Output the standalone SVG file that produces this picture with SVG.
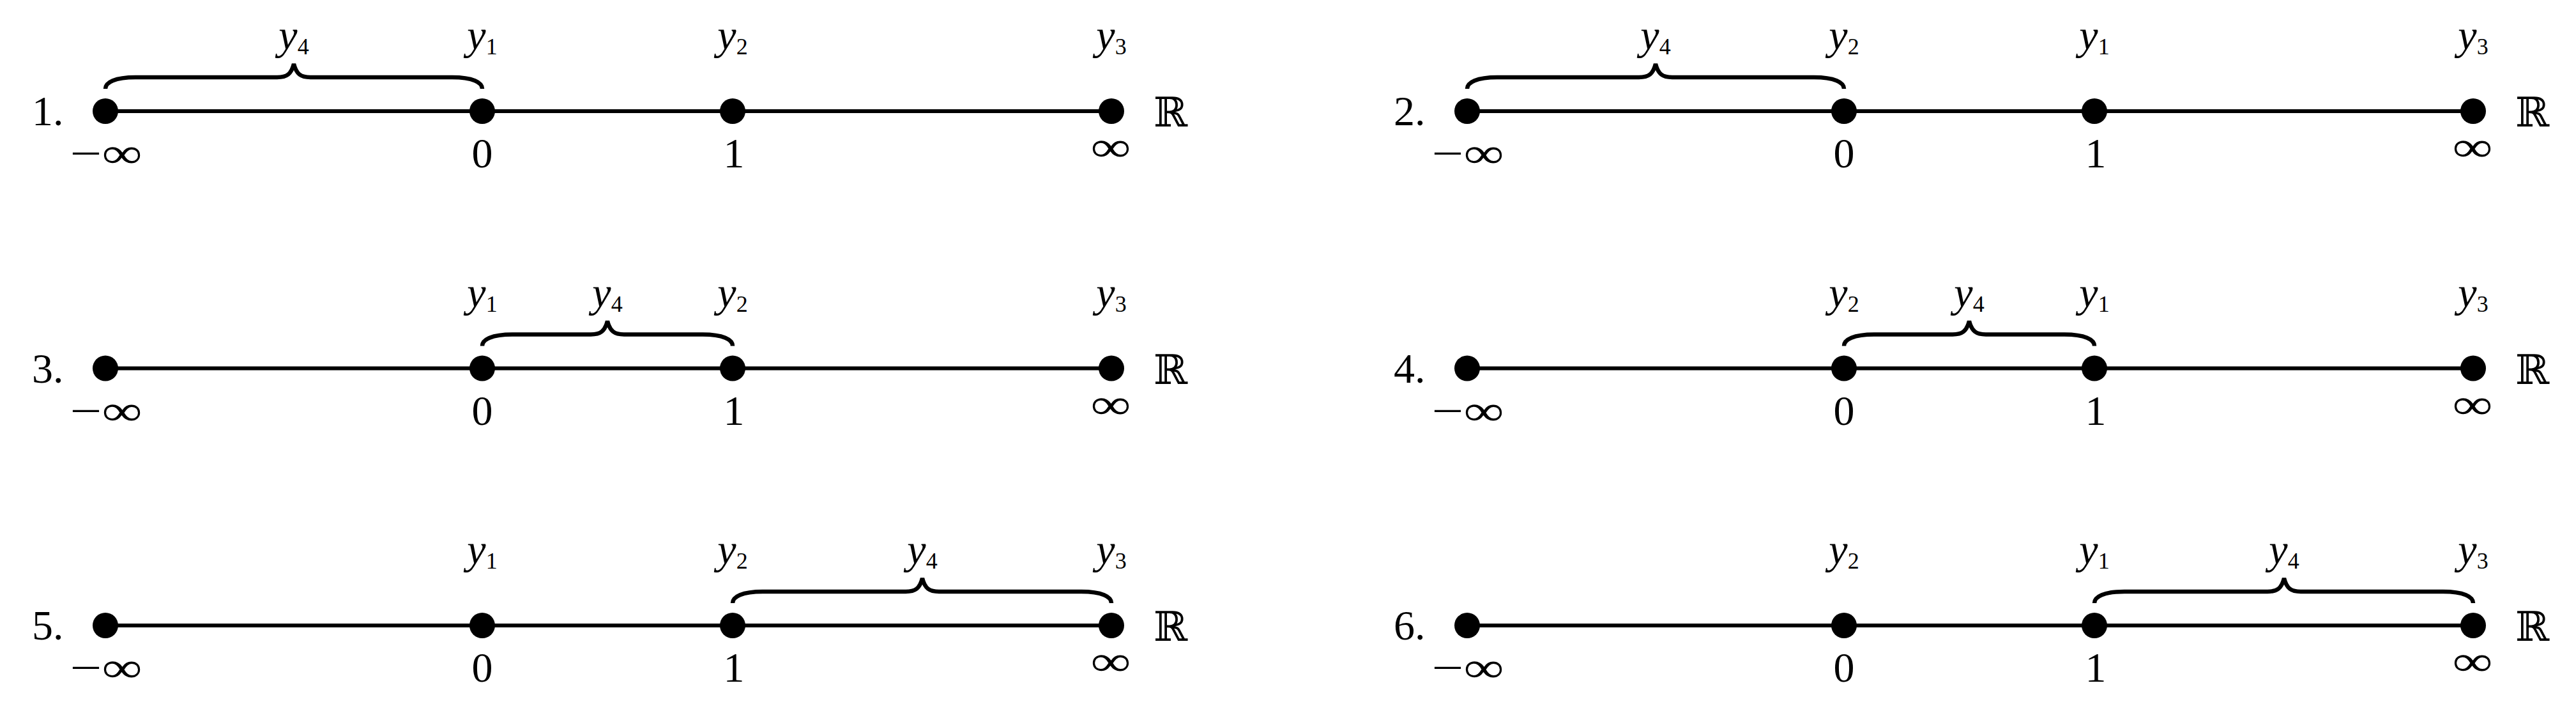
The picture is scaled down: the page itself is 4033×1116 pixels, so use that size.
<svg xmlns="http://www.w3.org/2000/svg" width="4033" height="1116" viewBox="0 0 4033 1116">
<style>
.bg{fill:#fff}
.ln{stroke:#000;stroke-width:6;fill:none}
.br{stroke:#000;stroke-width:6.5;fill:none;stroke-linecap:butt}
.dot{fill:#000}
text{font-family:"Liberation Serif","Times New Roman",serif;font-size:66px;fill:#000}
.c{text-anchor:middle}
.v{font-style:italic}
.s{font-style:normal;font-size:36px}
.bb{font-family:"DejaVu Serif",serif;font-size:64px}
</style>
<rect class="bg" width="4033" height="1116"/>
<defs>
<path id="braceL" class="br" d="M165,139 C165,129 180,121 212,121 L434,121 C449,121 456,116 460,100 C464,116 471,121 486,121 L708,121 C740,121 755,129 755,139"/>
<path id="braceM" class="br" d="M755,139 C755,129 770,121 802,121 L925,121 C940,121 947,116 951,100 C955,116 962,121 977,121 L1100,121 C1132,121 1147,129 1147,139"/>
<path id="braceR" class="br" d="M1147,139 C1147,129 1162,121 1194,121 L1418,121 C1433,121 1440,116 1444,100 C1448,116 1455,121 1470,121 L1693,121 C1725,121 1740,129 1740,139"/>
<g id="axis">
<text x="166" y="262" class="c" textLength="113" lengthAdjust="spacingAndGlyphs">−∞</text>
<text x="755" y="262" class="c">0</text>
<text x="1149" y="262" class="c">1</text>
<text x="1739" y="252" class="c" textLength="63" lengthAdjust="spacingAndGlyphs">∞</text>
<text x="1806" y="198" class="bb">ℝ</text>
</g>
</defs>

<g id="connectors">
<path class="ln" d="M165,174 H755 M755,174 H1147 M1147,174 H1740"/>
<path class="ln" d="M2297,174 H2887 M2887,174 H3279 M3279,174 H3872"/>
<path class="ln" d="M165,576.5 H755 M755,576.5 H1147 M1147,576.5 H1740"/>
<path class="ln" d="M2297,576.5 H2887 M2887,576.5 H3279 M3279,576.5 H3872"/>
<path class="ln" d="M165,979 H755 M755,979 H1147 M1147,979 H1740"/>
<path class="ln" d="M2297,979 H2887 M2887,979 H3279 M3279,979 H3872"/>
</g>

<g id="panel1" transform="translate(0,0)">
<text x="50" y="196">1.</text>
<use href="#axis"/>
<g id="p1-n1"><circle class="dot" cx="165" cy="174" r="20"/></g>
<g id="p1-n2"><circle class="dot" cx="755" cy="174" r="20"/><text x="755" y="77" class="c v">y<tspan class="s" dy="8">1</tspan></text></g>
<g id="p1-n3"><circle class="dot" cx="1147" cy="174" r="20"/><text x="1147" y="77" class="c v">y<tspan class="s" dy="8">2</tspan></text></g>
<g id="p1-n4"><circle class="dot" cx="1740" cy="174" r="20"/><text x="1740" y="77" class="c v">y<tspan class="s" dy="8">3</tspan></text></g>
<g id="p1-brace"><use href="#braceL"/><text x="460" y="77" class="c v">y<tspan class="s" dy="8">4</tspan></text></g>
</g>

<g id="panel2" transform="translate(2132,0)">
<text x="50" y="196">2.</text>
<use href="#axis"/>
<g id="p2-n1"><circle class="dot" cx="165" cy="174" r="20"/></g>
<g id="p2-n2"><circle class="dot" cx="755" cy="174" r="20"/><text x="755" y="77" class="c v">y<tspan class="s" dy="8">2</tspan></text></g>
<g id="p2-n3"><circle class="dot" cx="1147" cy="174" r="20"/><text x="1147" y="77" class="c v">y<tspan class="s" dy="8">1</tspan></text></g>
<g id="p2-n4"><circle class="dot" cx="1740" cy="174" r="20"/><text x="1740" y="77" class="c v">y<tspan class="s" dy="8">3</tspan></text></g>
<g id="p2-brace"><use href="#braceL"/><text x="460" y="77" class="c v">y<tspan class="s" dy="8">4</tspan></text></g>
</g>

<g id="panel3" transform="translate(0,402.5)">
<text x="50" y="196">3.</text>
<use href="#axis"/>
<g id="p3-n1"><circle class="dot" cx="165" cy="174" r="20"/></g>
<g id="p3-n2"><circle class="dot" cx="755" cy="174" r="20"/><text x="755" y="77" class="c v">y<tspan class="s" dy="8">1</tspan></text></g>
<g id="p3-n3"><circle class="dot" cx="1147" cy="174" r="20"/><text x="1147" y="77" class="c v">y<tspan class="s" dy="8">2</tspan></text></g>
<g id="p3-n4"><circle class="dot" cx="1740" cy="174" r="20"/><text x="1740" y="77" class="c v">y<tspan class="s" dy="8">3</tspan></text></g>
<g id="p3-brace"><use href="#braceM"/><text x="951" y="77" class="c v">y<tspan class="s" dy="8">4</tspan></text></g>
</g>

<g id="panel4" transform="translate(2132,402.5)">
<text x="50" y="196">4.</text>
<use href="#axis"/>
<g id="p4-n1"><circle class="dot" cx="165" cy="174" r="20"/></g>
<g id="p4-n2"><circle class="dot" cx="755" cy="174" r="20"/><text x="755" y="77" class="c v">y<tspan class="s" dy="8">2</tspan></text></g>
<g id="p4-n3"><circle class="dot" cx="1147" cy="174" r="20"/><text x="1147" y="77" class="c v">y<tspan class="s" dy="8">1</tspan></text></g>
<g id="p4-n4"><circle class="dot" cx="1740" cy="174" r="20"/><text x="1740" y="77" class="c v">y<tspan class="s" dy="8">3</tspan></text></g>
<g id="p4-brace"><use href="#braceM"/><text x="951" y="77" class="c v">y<tspan class="s" dy="8">4</tspan></text></g>
</g>

<g id="panel5" transform="translate(0,805)">
<text x="50" y="196">5.</text>
<use href="#axis"/>
<g id="p5-n1"><circle class="dot" cx="165" cy="174" r="20"/></g>
<g id="p5-n2"><circle class="dot" cx="755" cy="174" r="20"/><text x="755" y="77" class="c v">y<tspan class="s" dy="8">1</tspan></text></g>
<g id="p5-n3"><circle class="dot" cx="1147" cy="174" r="20"/><text x="1147" y="77" class="c v">y<tspan class="s" dy="8">2</tspan></text></g>
<g id="p5-n4"><circle class="dot" cx="1740" cy="174" r="20"/><text x="1740" y="77" class="c v">y<tspan class="s" dy="8">3</tspan></text></g>
<g id="p5-brace"><use href="#braceR"/><text x="1444" y="77" class="c v">y<tspan class="s" dy="8">4</tspan></text></g>
</g>

<g id="panel6" transform="translate(2132,805)">
<text x="50" y="196">6.</text>
<use href="#axis"/>
<g id="p6-n1"><circle class="dot" cx="165" cy="174" r="20"/></g>
<g id="p6-n2"><circle class="dot" cx="755" cy="174" r="20"/><text x="755" y="77" class="c v">y<tspan class="s" dy="8">2</tspan></text></g>
<g id="p6-n3"><circle class="dot" cx="1147" cy="174" r="20"/><text x="1147" y="77" class="c v">y<tspan class="s" dy="8">1</tspan></text></g>
<g id="p6-n4"><circle class="dot" cx="1740" cy="174" r="20"/><text x="1740" y="77" class="c v">y<tspan class="s" dy="8">3</tspan></text></g>
<g id="p6-brace"><use href="#braceR"/><text x="1444" y="77" class="c v">y<tspan class="s" dy="8">4</tspan></text></g>
</g>
</svg>
